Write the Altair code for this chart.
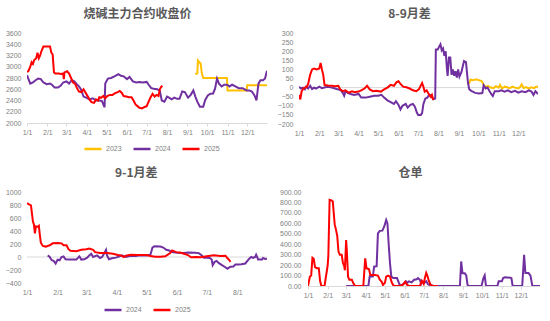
import altair as alt
import pandas as pd

YEAR = "2024"
C2023, C2024, C2025 = "#FFC000", "#7030A0", "#FF0000"

# ---------------- Panel 1: 烧碱主力合约收盘价 ----------------
p1_2023_dates = ["09-13", "09-16", "09-17", "09-19", "09-21", "09-23", "09-25", "10-31", "11-01", "11-30", "12-01", "12-31"]
p1_2023_vals = [2870, 2880, 3110, 3080, 3060, 2880, 2800, 2800, 2580, 2580, 2670, 2670]

p1_2024_dates = ["01-01", "01-03", "01-06", "01-10", "01-14", "01-18", "01-22", "01-26", "01-31", "02-05", "02-08",
                 "02-12", "02-17", "02-21", "02-25", "03-01", "03-05", "03-09", "03-13", "03-16", "03-20", "03-23",
                 "03-27", "03-31", "04-05", "04-10", "04-15", "04-20", "04-24", "04-28", "04-29", "05-03", "05-08",
                 "05-13", "05-19", "05-23", "05-27", "06-01", "06-05", "06-10", "06-15", "06-20", "06-25", "07-01",
                 "07-04", "07-08", "07-12", "07-17", "07-21", "07-24", "07-28", "08-01", "08-04", "08-08", "08-12",
                 "08-16", "08-20", "08-24", "08-28", "09-02", "09-06", "09-10", "09-13", "09-16", "09-20", "09-25",
                 "09-28", "10-02", "10-06", "10-10", "10-13", "10-16", "10-19", "10-23", "10-27", "10-31", "11-04",
                 "11-08", "11-13", "11-18", "11-24", "11-30", "12-04", "12-08", "12-12", "12-15", "12-18", "12-21",
                 "12-25", "12-28", "12-31"]
p1_2024_vals = [2850, 2790, 2700, 2720, 2760, 2790, 2780, 2720, 2690, 2700, 2680,
                2630, 2630, 2660, 2720, 2740, 2700, 2760, 2740, 2700, 2650, 2600,
                2470, 2450, 2420, 2440, 2400, 2400, 2390, 2280, 2700, 2790, 2800,
                2830, 2870, 2840, 2830, 2780, 2820, 2740, 2720, 2730, 2720, 2730,
                2680, 2620, 2610, 2600, 2570, 2400, 2380, 2470, 2450, 2420, 2450,
                2430, 2430, 2560, 2550, 2450, 2500, 2580, 2470, 2380, 2290, 2290,
                2410, 2490, 2520, 2525, 2610, 2790, 2700, 2650, 2680, 2680, 2650,
                2680, 2650, 2620, 2620, 2580, 2580, 2560, 2490, 2400, 2700, 2760,
                2760, 2790, 2930]

p1_2025_dates = ["01-01", "01-03", "01-06", "01-08", "01-10", "01-12", "01-15", "01-17", "01-19", "01-21", "01-23",
                 "01-26", "02-05", "02-07", "02-09", "02-11", "02-13", "02-18", "02-22", "02-25", "02-26", "02-27",
                 "03-02", "03-05", "03-08", "03-11", "03-14", "03-17", "03-20", "03-24", "03-27", "04-01", "04-05",
                 "04-08", "04-12", "04-15", "04-18", "04-20", "04-23", "04-26", "04-29", "05-02", "05-06", "05-10",
                 "05-14", "05-18", "05-21", "05-24", "05-27", "05-31", "06-04", "06-08", "06-11", "06-14", "06-17",
                 "06-20", "06-24", "06-27", "07-01", "07-04", "07-07", "07-10", "07-13", "07-16", "07-19", "07-21",
                 "07-23", "07-25"]
p1_2025_vals = [2910, 2920, 3000, 3080, 3050, 3120, 3150, 3250, 3150, 3200, 3280,
                3360, 3360, 3250, 3220, 2900, 2880, 2880, 2870, 2880, 2780, 2900,
                2920, 2880, 2800, 2720, 2700, 2620, 2560, 2550, 2600, 2500, 2420,
                2370, 2360, 2420, 2400, 2460, 2450, 2480, 2440, 2480, 2500, 2500,
                2530, 2550, 2570, 2540, 2480, 2470, 2460, 2460, 2400, 2330, 2300,
                2270, 2260, 2280, 2300, 2380, 2460, 2520, 2470, 2500, 2480, 2600,
                2640, 2660]

# ---------------- Panel 2: 8-9月差 ----------------
p2_2023_dates = ["09-14", "09-17", "09-19", "09-23", "09-28", "10-02", "10-06", "10-09", "10-12", "10-16", "10-20",
                 "10-24", "10-28", "11-01", "11-03", "11-06", "11-10", "11-14", "11-18", "11-22", "11-26", "12-01",
                 "12-04", "12-06", "12-09", "12-13", "12-17", "12-21", "12-25", "12-28", "12-31"]
p2_2023_vals = [20, 25, 45, 40, 45, 40, 36, 15, 5, 8, 0,
                -3, 8, 0, 15, -5, 5, 2, -3, 5, 0, -5,
                5, 18, -2, 3, -5, 2, -3, 5, 5]

p2_2024_dates = ["01-01", "01-04", "01-07", "01-10", "01-12", "01-15", "01-18", "01-21", "01-24", "01-27", "02-01",
                 "02-05", "02-10", "02-15", "02-20", "02-25", "03-01", "03-05", "03-08", "03-10", "03-12", "03-16",
                 "03-20", "03-25", "04-01", "04-05", "04-12", "04-18", "04-25", "05-01", "05-06", "05-10", "05-15",
                 "05-20", "05-25", "05-28", "06-01", "06-04", "06-07", "06-12", "06-15", "06-19", "06-23", "06-26",
                 "06-29", "07-01", "07-05", "07-07", "07-09", "07-12", "07-15", "07-18", "07-21", "07-24", "07-27",
                 "07-28", "07-31", "08-02", "08-04", "08-06", "08-08", "08-10", "08-12", "08-14", "08-15", "08-17",
                 "08-19", "08-21", "08-23", "08-25", "08-27", "08-29", "08-31", "09-02", "09-05", "09-09", "09-12",
                 "09-15", "09-17", "09-20", "09-26", "10-02", "10-07", "10-09", "10-12", "10-15", "10-18", "10-21",
                 "10-23", "10-26", "11-01", "11-05", "11-10", "11-15", "11-20", "11-26", "12-01", "12-06", "12-12",
                 "12-17", "12-21", "12-24", "12-27", "12-31"]
p2_2024_vals = [5, -5, 0, -10, 5, -5, 10, -8, 0, -5, 5,
                -3, 2, 5, 0, -5, -10, -15, -30, -45, -20, -30,
                -35, -40, -35, -55, -55, -50, -45, -45, -40, -55, -70,
                -80, -90, -75, -95, -120, -100, -90, -110, -95, -90, -105,
                -137, -150, -150, -140, -90, -60, -55, -38, -45, -64, -60,
                210, 210, 225, 238, 205, 215, 174, 200, 100, 64, 165,
                165, 70, 100, 65, 90, 55, 100, 60, 85, 146, 140,
                28, -9, -18, -29, -32, -30, 13, -5, 0, -20, -37,
                -46, -20, -20, -15, -22, -15, -25, -18, -28, -20, -25,
                -15, -22, -40, -20, -35]

p2_2025_dates = ["01-01", "01-03", "01-05", "01-08", "01-10", "01-13", "01-15", "01-18", "01-21", "01-24", "01-28",
                 "02-01", "02-03", "02-05", "02-07", "02-09", "02-14", "02-20", "02-25", "03-01", "03-04", "03-08",
                 "03-12", "03-17", "03-22", "03-26", "04-01", "04-05", "04-10", "04-14", "04-18", "04-23", "04-28",
                 "05-05", "05-10", "05-15", "05-20", "05-25", "05-29", "06-01", "06-04", "06-08", "06-13", "06-18",
                 "06-23", "06-28", "07-02", "07-07", "07-09", "07-11", "07-14", "07-17", "07-20", "07-22", "07-24"]
p2_2025_vals = [-40, -65, -20, -5, 0, 5, 20, 70, 100, 105, 100,
                105, 135, 100, 70, 15, 12, 10, 8, 10, -10, -20,
                -15, -28, -20, -25, -22, -15, -5, 10, -10, -20, -18,
                -22, -10, 0, 15, 10, 30, 35, 20, 5, 2, -5,
                -15, -20, -10, 25, 5, -22, -15, -35, -50, -40, -68]

# ---------------- Panel 3: 9-1月差 ----------------
p3_2024_dates = ["01-22", "01-24", "01-26", "01-28", "01-30", "02-01", "02-03", "02-05", "02-07", "02-09", "02-12",
                 "02-20", "02-23", "02-25", "02-28", "03-02", "03-04", "03-06", "03-08", "03-12", "03-15", "03-17",
                 "03-19", "03-21", "03-22", "03-24", "03-27", "03-31", "04-03", "04-06", "04-10", "04-15", "04-20",
                 "04-25", "05-01", "05-05", "05-07", "05-09", "05-15", "05-18", "05-21", "05-24", "05-27", "06-01",
                 "06-08", "06-12", "06-19", "06-23", "06-26", "06-28", "07-01", "07-04", "07-06", "07-07", "07-09",
                 "07-11", "07-13", "07-16", "07-19", "07-22", "07-25", "07-28", "07-30", "08-02", "08-05", "08-09",
                 "08-13", "08-15", "08-17", "08-19", "08-20", "08-21", "08-22", "08-26", "08-27", "08-29", "08-31"]
p3_2024_vals = [25, 0, -50, -60, -100, -40, -50, 0, 10, -35, -40,
                -40, 10, -40, -35, -10, 25, 50, 0, 25, -15, 0,
                50, 110, 25, -35, -20, -10, 5, 25, 0, 20, 15,
                25, 25, 35, 143, 165, 160, 145, 110, 100, 75, 65,
                60, 70, 65, 60, 25, -10, -10, -15, -40, -125, -75,
                -60, -90, -120, -150, -180, -150, -145, -115, -115, -110, -100,
                -25, 0, -15, 0, 35, 0, -40, -40, -15, -30, -25]

p3_2025_dates = ["01-01", "01-03", "01-05", "01-06", "01-07", "01-08", "01-09", "01-10", "01-12", "01-13", "01-14",
                 "01-15", "01-17", "01-20", "01-24", "01-27", "02-01", "02-05", "02-07", "02-10", "02-12", "02-14",
                 "02-20", "02-25", "03-01", "03-04", "03-08", "03-10", "03-15", "03-22", "03-28", "04-02", "04-05",
                 "04-08", "04-10", "04-15", "04-22", "05-01", "05-05", "05-10", "05-15", "05-20", "05-25", "05-27",
                 "05-31", "06-04", "06-08", "06-12", "06-15", "06-20", "06-25", "07-01", "07-08", "07-15", "07-20",
                 "07-22", "07-24", "07-25"]
p3_2025_vals = [830, 810, 795, 670, 545, 500, 365, 470, 465, 480, 340,
                220, 170, 160, 180, 210, 215, 210, 180, 180, 120, 95,
                90, 110, 120, 130, 110, 75, 60, 60, 50, 30, 25,
                0, 20, 35, 30, 30, 15, 5, 5, 10, 60, 100,
                75, 70, 50, 30, -5, 0, -5, 10, 25, 15, 20,
                -20, -50, -75]

# ---------------- Panel 4: 仓单 ----------------
p4_2024_dates = ["03-01", "04-05", "04-07", "04-12", "04-14", "04-18", "04-20", "04-23", "04-27", "04-30", "05-03",
                 "05-05", "05-07", "05-09", "05-11", "05-14", "05-20", "05-23", "05-25", "05-28", "06-01", "06-03",
                 "06-05", "06-08", "06-12", "06-16", "06-20", "06-22", "06-25", "06-27", "06-29", "07-02", "07-05",
                 "07-08", "07-16", "08-27", "08-29", "08-31", "09-04", "09-06", "09-08", "09-10", "09-30", "10-03",
                 "10-05", "10-07", "10-25", "10-27", "11-01", "11-03", "11-06", "11-14", "11-16", "11-18", "12-03",
                 "12-06", "12-08", "12-13", "12-16", "12-19", "12-31"]
p4_2024_vals = [0, 0, 90, 90, 185, 190, 505, 528, 530, 570, 633,
                600, 394, 219, 92, 76, 76, 29, 0, 10, 30, 45,
                30, 45, 35, 60, 65, 76, 60, 20, 45, 30, 45,
                15, 0, 0, 235, 124, 120, 100, 10, 0, 0, 76,
                102, 0, 0, 45, 45, 76, 83, 80, 76, 0, 0,
                299, 124, 124, 100, 0, 0]

p4_2025_dates = ["01-01", "01-04", "01-06", "01-08", "01-10", "01-12", "01-15", "01-18", "01-20", "01-22", "01-27",
                 "02-01", "02-02", "02-04", "02-07", "02-09", "02-12", "02-14", "02-16", "02-18", "02-20", "02-23",
                 "02-25", "02-27", "02-28", "03-01", "03-02", "03-04", "03-06", "03-10", "03-12", "03-15", "03-28",
                 "03-31", "04-02", "04-06", "04-08", "04-15", "04-20", "04-23", "04-26", "04-28", "05-01", "05-03",
                 "05-06", "05-09", "05-12", "05-15", "05-25", "05-30", "06-02", "06-05", "06-08", "06-25", "06-28",
                 "07-01", "07-03", "07-05", "07-07", "07-09", "07-12", "07-15", "07-23"]
p4_2025_vals = [0, 90, 100, 270, 260, 180, 170, 170, 50, 0, 0,
                200, 290, 825, 820, 810, 590, 540, 480, 330, 300, 300,
                220, 190, 150, 440, 350, 90, 60, 60, 30, 0, 0,
                265, 170, 160, 105, 105, 100, 60, 40, 10, 30, 90,
                100, 90, 30, 0, 0, 15, 40, 10, 0, 0, 50,
                20, 80, 125, 95, 50, 10, 0, 0]

LABEL_COLOR = "#7f7f7f"
TITLE_COLOR = "#595959"
AXIS_LINE = "#d9d9d9"
FONT = "Liberation Sans"
CJK = "Noto Sans CJK SC"


def frame(series_list):
    rows = []
    for name, dates, vals in series_list:
        for d, v in zip(dates, vals):
            rows.append({"date": f"{YEAR}-{d}T00:00:00", "value": v, "series": name})
    return pd.DataFrame(rows)


def panel(series_list, colors, title, title_dx, ydom, yvals, yfmt, end_md, months,
          width, height, legend_x, legend_y, zero_line, bottom_line, ylabel_pad):
    df = frame(series_list)
    names = [s[0] for s in series_list]
    xscale = alt.Scale(domain=[alt.DateTime(year=2024, month=1, date=1),
                               alt.DateTime(year=2024, month=end_md[0], date=end_md[1])], nice=False)
    xaxis = alt.Axis(values=[alt.DateTime(year=2024, month=m, date=1) for m in months],
                     format="%-m/%-d", labelFontSize=7, labelColor=LABEL_COLOR, labelFont=FONT,
                     domain=bottom_line, domainColor=AXIS_LINE, ticks=bottom_line, tickColor=AXIS_LINE,
                     tickSize=3, labelPadding=2 if bottom_line else 5, grid=False, title=None,
                     labelFlush=False, labelOverlap=False)
    yaxis = alt.Axis(values=yvals, format=yfmt, labelFontSize=7, labelColor=LABEL_COLOR, labelFont=FONT,
                     domain=False, ticks=False, grid=False, title=None, labelPadding=ylabel_pad,
                     labelOverlap=False, labelFlush=False)
    yscale = alt.Scale(domain=ydom, nice=False, zero=False)
    legend = alt.Legend(orient="none", legendX=legend_x, legendY=legend_y, direction="horizontal",
                        title=None, symbolType="stroke", symbolStrokeWidth=2.5, symbolSize=289,
                        labelFontSize=7, labelColor=LABEL_COLOR, labelFont=FONT, labelOffset=3,
                        columnPadding=6)
    lines = alt.Chart(df).mark_line(strokeWidth=2, clip=True).encode(
        x=alt.X("date:T", scale=xscale, axis=xaxis),
        y=alt.Y("value:Q", scale=yscale, axis=yaxis),
        color=alt.Color("series:N", scale=alt.Scale(domain=names, range=colors), legend=legend),
        detail="series:N",
    )
    layers = []
    if zero_line:
        layers.append(alt.Chart(pd.DataFrame({"value": [0]})).mark_rule(color=AXIS_LINE, strokeWidth=1).encode(
            y=alt.Y("value:Q", scale=yscale, axis=yaxis)))
    layers.append(lines)
    ch = alt.layer(*layers).properties(
        width=width, height=height,
        title=alt.TitleParams(title, fontSize=12, fontWeight="bold", color=TITLE_COLOR, font=CJK,
                              anchor="middle", frame="group", dx=title_dx, offset=8))
    return ch


p1 = panel([("2023", p1_2023_dates, p1_2023_vals), ("2024", p1_2024_dates, p1_2024_vals),
            ("2025", p1_2025_dates, p1_2025_vals)], [C2023, C2024, C2025],
           "烧碱主力合约收盘价", -9.5, [2000, 3600], list(range(2000, 3601, 200)), "d", (12, 31),
           list(range(1, 13)), 240, 90, 56, 106, False, True, 6)
p2 = panel([("2023", p2_2023_dates, p2_2023_vals), ("2024", p2_2024_dates, p2_2024_vals),
            ("2025", p2_2025_dates, p2_2025_vals)], [C2023, C2024, C2025],
           "8-9月差", -9, [-200, 300], list(range(-200, 301, 50)), "d", (12, 31),
           list(range(1, 13)), 239, 91, 56, 106, True, False, 6)
p3 = panel([("2024", p3_2024_dates, p3_2024_vals), ("2025", p3_2025_dates, p3_2025_vals)], [C2024, C2025],
           "9-1月差", -10.7, [-400, 1000], list(range(-400, 1001, 200)), "d", (8, 31),
           list(range(1, 9)), 240, 91, 76, 108, True, False, 6)
p4 = panel([("2024", p4_2024_dates, p4_2024_vals), ("2025", p4_2025_dates, p4_2025_vals)], [C2024, C2025],
           "仓单", -13.5, [0, 900], list(range(0, 901, 100)), ".2f", (12, 31),
           list(range(1, 13)), 232, 94, 67, 108, False, True, 7)

top = alt.hconcat(p1, p2, spacing=10)
bottom = alt.hconcat(p3, p4, spacing=11)
chart = alt.vconcat(top, bottom, spacing=13).properties(
    padding={"left": 5, "top": 8, "right": 0, "bottom": 0},
    background="white",
).configure_view(stroke=None).resolve_scale(color="independent")

chart.save("out.html", embed_options={"renderer": "svg", "actions": False})
